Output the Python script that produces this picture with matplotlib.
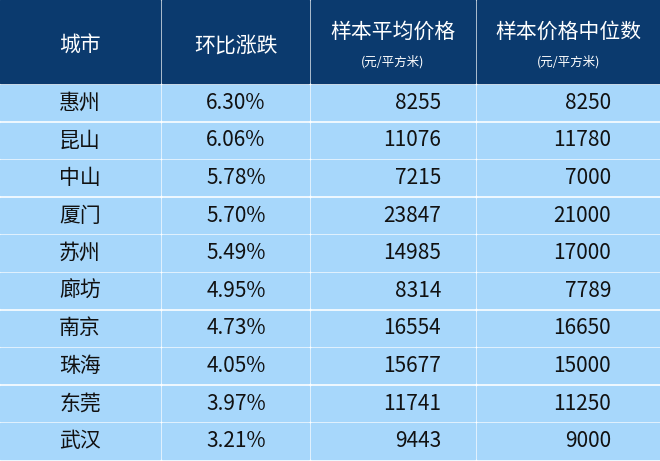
import matplotlib
matplotlib.use("Agg")
import matplotlib.pyplot as plt
from matplotlib.patches import Rectangle

plt.rcParams["font.family"] = "Noto Sans CJK SC"

cities = ["惠州", "昆山", "中山", "厦门", "苏州", "廊坊", "南京", "珠海", "东莞", "武汉"]
changes = ["6.30%", "6.06%", "5.78%", "5.70%", "5.49%", "4.95%", "4.73%", "4.05%", "3.97%", "3.21%"]
avg_price = [8255, 11076, 7215, 23847, 14985, 8314, 16554, 15677, 11741, 9443]
median_price = [8250, 11780, 7000, 21000, 17000, 7789, 16650, 15000, 11250, 9000]
headers = ["城市", "环比涨跌", "样本平均价格", "样本价格中位数"]
subheaders = ["", "", "(元/平方米)", "(元/平方米)"]

W, H = 660, 461
fig = plt.figure(figsize=(W / 100, H / 100), dpi=100)
ax = fig.add_axes([0, 0, 1, 1])
ax.set_xlim(0, W)
ax.set_ylim(H, 0)
ax.axis("off")
fig.patch.set_facecolor("white")

cols = [(0, 160), (162, 309), (311, 475), (477, 660)]
header_h = 83
row_top = 85
row_h = (H - row_top) / len(cities)
navy = "#0b3a6e"
light = "#a7d7fb"

for (x0, x1), h, s in zip(cols, headers, subheaders):
    ax.add_patch(Rectangle((x0, 0), x1 - x0, header_h, color=navy))
    cx = (x0 + x1) / 2
    if s:
        ax.text(cx, 32, h, color="white", fontsize=15, ha="center", va="center")
        ax.text(cx, 62, s, color="white", fontsize=9, ha="center", va="center")
    else:
        ax.text(cx, 46, h, color="white", fontsize=15, ha="center", va="center")

for i in range(len(cities)):
    y0 = row_top + i * row_h
    for x0, x1 in cols:
        ax.add_patch(Rectangle((x0, y0), x1 - x0, row_h - 2.5, color=light))
    cy = y0 + row_h / 2 - 1
    ax.text(80, cy, cities[i], fontsize=15, ha="center", va="center", color="#111111")
    ax.text(236, cy, changes[i], fontsize=15, ha="center", va="center", color="#111111")
    ax.text(441, cy, str(avg_price[i]), fontsize=15, ha="right", va="center", color="#111111")
    ax.text(611, cy, str(median_price[i]), fontsize=15, ha="right", va="center", color="#111111")

fig.savefig("out.png", dpi=100)
